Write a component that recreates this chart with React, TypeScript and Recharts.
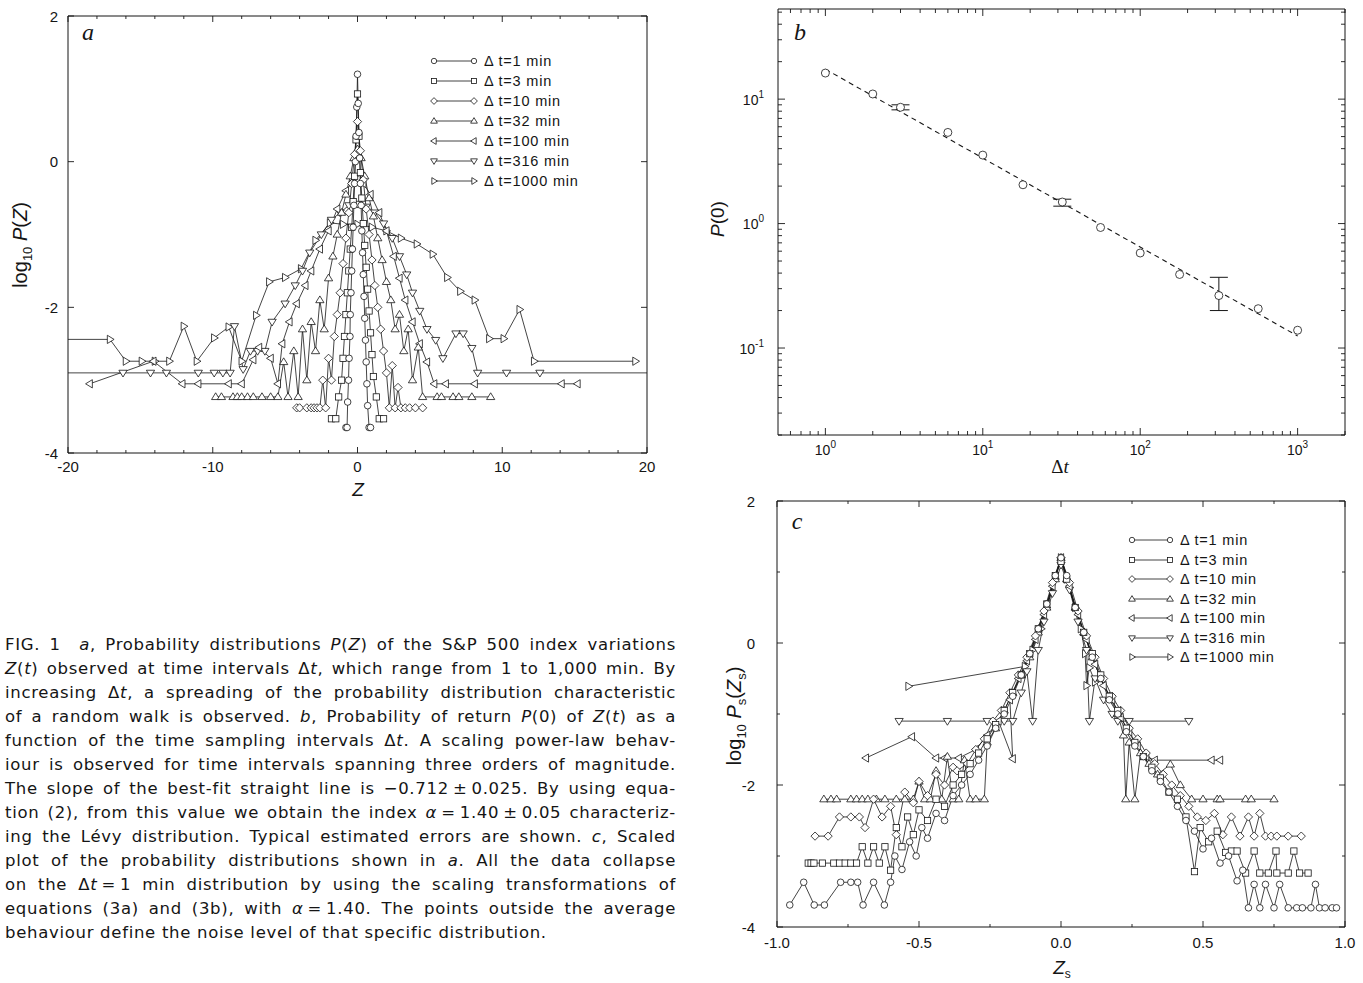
import React from 'react';
import { LineChart, Line, XAxis, YAxis, ErrorBar } from 'recharts';

type P = [number, number];

// ---------- legend ----------
const legendLabels = ['Δ t=1 min', 'Δ t=3 min', 'Δ t=10 min', 'Δ t=32 min', 'Δ t=100 min', 'Δ t=316 min', 'Δ t=1000 min'];
const markerShapes = ['circle', 'square', 'diamond', 'triUp', 'triLeft', 'triDown', 'triRight'];

// ---------- panel a : Z vs log10 P(Z) ----------
const aDt1: P[] = [[-0.8,-3.65],[-0.72,-3.65],[-0.68,-3.3],[-0.62,-3.0],[-0.58,-2.7],[-0.52,-2.4],[-0.5,-2.1],[-0.45,-1.8],[-0.4,-1.5],[-0.35,-1.2],[-0.3,-0.9],[-0.25,-0.6],[-0.2,-0.3],[-0.15,0.0],[-0.1,0.35],[-0.05,0.75],[0,1.2],[0.05,0.8],[0.1,0.4],[0.15,0.05],[0.2,-0.3],[0.25,-0.6],[0.3,-0.95],[0.35,-1.25],[0.4,-1.55],[0.45,-1.85],[0.5,-2.15],[0.55,-2.45],[0.6,-2.75],[0.65,-3.05],[0.7,-3.35],[0.8,-3.65],[0.9,-3.65]];
const aDt3: P[] = [[-1.8,-3.53],[-1.5,-3.53],[-1.3,-3.23],[-1.1,-3.0],[-1.0,-2.7],[-0.9,-2.4],[-0.8,-2.1],[-0.7,-1.8],[-0.6,-1.5],[-0.5,-1.2],[-0.4,-0.9],[-0.3,-0.55],[-0.2,-0.2],[-0.1,0.3],[0,0.93],[0.1,0.35],[0.2,-0.15],[0.3,-0.5],[0.4,-0.85],[0.5,-1.15],[0.6,-1.45],[0.7,-1.75],[0.8,-2.05],[0.9,-2.35],[1.0,-2.65],[1.1,-2.95],[1.3,-3.23],[1.5,-3.53],[1.8,-3.53]];
const aDt10: P[] = [[-4.2,-3.38],[-4.0,-3.38],[-3.5,-3.38],[-3.2,-3.38],[-3.0,-3.38],[-2.8,-3.38],[-2.6,-3.38],[-2.4,-3.0],[-2.2,-3.38],[-2.0,-2.7],[-1.8,-3.0],[-1.6,-2.4],[-1.4,-2.1],[-1.2,-1.8],[-1.0,-1.4],[-0.8,-1.05],[-0.6,-0.7],[-0.4,-0.3],[-0.2,0.1],[0,0.55],[0.2,0.15],[0.4,-0.25],[0.6,-0.65],[0.8,-1.0],[1.0,-1.35],[1.2,-1.7],[1.4,-2.0],[1.6,-2.3],[1.8,-2.6],[2.0,-2.9],[2.2,-3.38],[2.4,-2.8],[2.6,-3.38],[2.8,-3.1],[3.0,-3.38],[3.3,-3.38],[3.6,-3.38],[4.0,-3.38],[4.5,-3.38]];
const aDt32: P[] = [[-9.8,-3.23],[-9.4,-3.23],[-8.6,-3.23],[-8.3,-3.23],[-8.0,-3.23],[-7.6,-3.23],[-7.2,-3.23],[-6.6,-3.23],[-6.0,-3.23],[-5.5,-3.23],[-5.1,-2.75],[-4.8,-3.23],[-4.4,-2.6],[-4.1,-3.23],[-3.8,-2.3],[-3.5,-3.0],[-3.2,-2.2],[-2.9,-2.6],[-2.6,-1.9],[-2.3,-2.3],[-2.0,-1.6],[-1.7,-1.3],[-1.4,-1.0],[-1.1,-0.7],[-0.8,-0.45],[-0.5,-0.2],[-0.25,0.05],[0,0.17],[0.25,0.05],[0.5,-0.2],[0.8,-0.5],[1.1,-0.75],[1.4,-1.05],[1.7,-1.35],[2.0,-1.65],[2.3,-1.9],[2.6,-2.3],[2.9,-2.1],[3.2,-2.6],[3.5,-2.3],[3.8,-3.0],[4.2,-2.55],[4.5,-3.23],[5.5,-3.23],[5.8,-3.23],[6.6,-3.23],[7.0,-3.23],[7.9,-3.23],[9.2,-3.23]];
const aDt100: P[] = [[-18.5,-3.05],[-14.1,-2.74],[-12.1,-3.05],[-11.0,-3.05],[-8.9,-3.05],[-8.0,-3.05],[-7.2,-2.72],[-6.8,-2.55],[-6.0,-2.7],[-5.5,-3.05],[-5.2,-2.5],[-4.7,-2.2],[-4.2,-1.95],[-3.6,-1.7],[-3.2,-1.5],[-2.6,-1.2],[-2.0,-0.95],[-1.4,-0.65],[-0.8,-0.4],[-0.3,-0.27],[0,-0.24],[0.4,-0.3],[0.9,-0.45],[1.5,-0.7],[2.0,-0.95],[2.5,-1.3],[2.9,-1.6],[3.3,-1.9],[3.8,-2.2],[4.3,-2.5],[4.8,-2.75],[5.3,-3.05],[6.1,-3.05],[8.1,-3.05],[14.1,-3.05],[15.2,-3.05]];
const aDt316: P[] = [[-21,-2.9],[-16.2,-2.9],[-14.3,-2.9],[-13.2,-2.9],[-11.0,-2.9],[-9.9,-2.9],[-9.3,-2.9],[-8.8,-2.9],[-8.5,-2.26],[-7.9,-2.85],[-7.4,-2.6],[-6.9,-2.6],[-6.4,-2.6],[-5.9,-2.2],[-5.0,-1.95],[-4.3,-1.7],[-3.8,-1.5],[-3.3,-1.25],[-2.5,-1.0],[-1.8,-0.8],[-1.2,-0.7],[-0.6,-0.6],[0,-0.58],[0.6,-0.62],[1.2,-0.7],[1.8,-0.85],[2.4,-1.05],[2.9,-1.3],[3.4,-1.55],[3.8,-1.8],[4.3,-2.05],[4.8,-2.3],[5.4,-2.45],[5.9,-2.7],[6.8,-2.36],[7.3,-2.36],[7.9,-2.56],[8.3,-2.9],[10.3,-2.9],[12.6,-2.9],[21,-2.9]];
const aDt1000: P[] = [[-21,-2.44],[-17.1,-2.44],[-16.0,-2.74],[-14.9,-2.74],[-14.0,-2.74],[-13.0,-2.74],[-12.0,-2.26],[-11.1,-2.74],[-9.9,-2.42],[-8.9,-2.27],[-8.0,-2.74],[-7.0,-2.11],[-6.1,-1.65],[-5.0,-1.59],[-3.9,-1.47],[-2.9,-1.08],[-1.9,-0.84],[-1.0,-0.86],[0,-0.86],[1.0,-0.9],[2.0,-0.95],[3.0,-1.05],[4.1,-1.13],[5.2,-1.27],[6.2,-1.59],[7.1,-1.78],[8.1,-1.9],[9.1,-2.43],[10.1,-2.43],[11.2,-2.03],[12.2,-2.74],[19.2,-2.74]];
const aXTicks = [-20,-18,-16,-14,-12,-10,-8,-6,-4,-2,0,2,4,6,8,10,12,14,16,18,20];
const aYTicks = [-4,-2,0,2];

// ---------- panel b : P(0) vs Δt ----------
const bX = [1, 2, 3, 6, 10, 18, 32, 56, 100, 178, 316, 562, 1000];
const bY = [16.2, 11.0, 8.6, 5.4, 3.55, 2.05, 1.49, 0.93, 0.58, 0.39, 0.264, 0.207, 0.139];
const bErrX = [3, 32, 316];
const bErrY = [8.6, 1.49, 0.264];
const bErrLow = [0.4, 0.11, 0.064];
const bErrHigh = [0.4, 0.08, 0.106];
const bFitX = [1, 1000];
const bFitY = [17.4, 0.125];
const bXTicks = [0.6,0.7,0.8,0.9,1,2,3,4,5,6,7,8,9,10,20,30,40,50,60,70,80,90,100,200,300,400,500,600,700,800,900,1000,2000];
const bYTicks = [0.02,0.03,0.04,0.05,0.06,0.07,0.08,0.09,0.1,0.2,0.3,0.4,0.5,0.6,0.7,0.8,0.9,1,2,3,4,5,6,7,8,9,10,20,30,40,50];

// ---------- panel c : Zs vs log10 Ps(Zs) ----------
const cDt1: P[] = [[-0.955,-3.69],[-0.906,-3.37],[-0.869,-3.69],[-0.833,-3.69],[-0.776,-3.37],[-0.74,-3.37],[-0.716,-3.37],[-0.697,-3.69],[-0.66,-3.37],[-0.622,-3.69],[-0.6,-3.37],[-0.585,-3.0],[-0.56,-3.19],[-0.533,-2.8],[-0.51,-3.0],[-0.49,-2.6],[-0.47,-2.75],[-0.44,-2.4],[-0.41,-2.5],[-0.38,-2.15],[-0.35,-2.0],[-0.32,-1.85],[-0.29,-1.65],[-0.26,-1.45],[-0.23,-1.2],[-0.2,-1.0],[-0.17,-0.75],[-0.14,-0.45],[-0.11,-0.15],[-0.08,0.2],[-0.05,0.55],[-0.02,0.95],[0,1.2],[0.02,0.95],[0.05,0.5],[0.08,0.15],[0.11,-0.2],[0.14,-0.5],[0.17,-0.8],[0.2,-1.0],[0.23,-1.25],[0.26,-1.45],[0.29,-1.6],[0.32,-1.8],[0.35,-1.95],[0.38,-2.1],[0.41,-2.3],[0.44,-2.5],[0.47,-2.65],[0.5,-2.9],[0.53,-2.75],[0.56,-3.1],[0.59,-3.0],[0.62,-3.35],[0.64,-3.2],[0.66,-3.73],[0.68,-3.4],[0.7,-3.73],[0.72,-3.4],[0.75,-3.73],[0.77,-3.4],[0.8,-3.73],[0.83,-3.73],[0.85,-3.73],[0.88,-3.73],[0.896,-3.4],[0.91,-3.73],[0.93,-3.73],[0.955,-3.73],[0.97,-3.73]];
const cDt3: P[] = [[-0.89,-3.1],[-0.88,-3.1],[-0.87,-3.1],[-0.84,-3.1],[-0.8,-3.1],[-0.78,-3.1],[-0.76,-3.1],[-0.74,-3.1],[-0.72,-3.1],[-0.7,-2.87],[-0.68,-3.1],[-0.66,-2.87],[-0.64,-3.1],[-0.62,-2.87],[-0.6,-3.2],[-0.58,-2.6],[-0.56,-2.87],[-0.54,-2.45],[-0.52,-2.7],[-0.5,-2.35],[-0.47,-2.5],[-0.44,-2.2],[-0.41,-2.3],[-0.38,-2.0],[-0.35,-1.85],[-0.32,-1.7],[-0.29,-1.55],[-0.26,-1.35],[-0.23,-1.15],[-0.2,-0.95],[-0.17,-0.7],[-0.14,-0.45],[-0.11,-0.15],[-0.08,0.2],[-0.05,0.55],[-0.02,0.95],[0,1.15],[0.02,0.9],[0.05,0.5],[0.08,0.15],[0.11,-0.15],[0.14,-0.45],[0.17,-0.75],[0.2,-0.95],[0.23,-1.2],[0.26,-1.4],[0.29,-1.6],[0.32,-1.75],[0.35,-1.9],[0.38,-2.1],[0.41,-2.2],[0.44,-2.45],[0.47,-3.22],[0.49,-2.6],[0.52,-2.8],[0.55,-2.65],[0.58,-2.95],[0.6,-2.93],[0.62,-2.93],[0.65,-3.24],[0.68,-2.93],[0.7,-3.24],[0.73,-3.24],[0.757,-2.93],[0.76,-3.24],[0.8,-3.24],[0.82,-2.93],[0.84,-3.24],[0.87,-3.24]];
const cDt10: P[] = [[-0.866,-2.72],[-0.82,-2.72],[-0.78,-2.45],[-0.74,-2.45],[-0.71,-2.45],[-0.69,-2.6],[-0.66,-2.2],[-0.63,-2.45],[-0.6,-2.3],[-0.58,-2.7],[-0.55,-2.1],[-0.52,-2.25],[-0.5,-1.95],[-0.47,-2.15],[-0.44,-1.85],[-0.41,-2.0],[-0.38,-1.75],[-0.366,-1.8],[-0.33,-1.7],[-0.3,-1.5],[-0.27,-1.35],[-0.24,-1.1],[-0.21,-0.95],[-0.18,-0.7],[-0.15,-0.45],[-0.12,-0.2],[-0.09,0.1],[-0.06,0.45],[-0.03,0.85],[0,1.2],[0.03,0.85],[0.06,0.45],[0.09,0.1],[0.12,-0.2],[0.15,-0.5],[0.18,-0.75],[0.21,-0.95],[0.24,-1.2],[0.27,-1.35],[0.3,-1.55],[0.33,-1.7],[0.36,-1.85],[0.39,-2.0],[0.42,-2.15],[0.45,-2.3],[0.48,-2.45],[0.51,-2.5],[0.54,-2.4],[0.57,-2.7],[0.6,-2.45],[0.63,-2.72],[0.66,-2.45],[0.68,-2.72],[0.7,-2.4],[0.72,-2.72],[0.74,-2.72],[0.76,-2.72],[0.8,-2.72],[0.846,-2.72]];
const cDt32: P[] = [[-0.835,-2.2],[-0.81,-2.2],[-0.79,-2.2],[-0.74,-2.2],[-0.72,-2.2],[-0.7,-2.2],[-0.68,-2.2],[-0.65,-2.2],[-0.62,-2.2],[-0.58,-2.2],[-0.55,-2.2],[-0.52,-2.2],[-0.5,-1.95],[-0.48,-2.2],[-0.46,-2.2],[-0.44,-1.8],[-0.42,-2.2],[-0.4,-1.6],[-0.38,-2.2],[-0.36,-2.2],[-0.34,-1.65],[-0.32,-2.2],[-0.3,-2.2],[-0.27,-2.2],[-0.26,-1.4],[-0.23,-1.2],[-0.2,-0.95],[-0.17,-0.7],[-0.14,-0.45],[-0.11,-0.2],[-0.08,0.15],[-0.05,0.5],[-0.02,0.9],[0,1.2],[0.02,0.9],[0.05,0.5],[0.08,0.15],[0.11,-0.2],[0.14,-0.5],[0.17,-0.75],[0.2,-1.0],[0.22,-1.3],[0.228,-2.2],[0.24,-1.4],[0.26,-2.2],[0.28,-1.55],[0.31,-1.7],[0.34,-1.85],[0.385,-1.71],[0.42,-2.0],[0.46,-2.2],[0.5,-2.2],[0.55,-2.2],[0.56,-2.2],[0.65,-2.2],[0.67,-2.2],[0.75,-2.2]];
const cDt100: P[] = [[-0.687,-1.62],[-0.525,-1.32],[-0.44,-1.62],[-0.41,-1.62],[-0.36,-1.62],[-0.3,-1.5],[-0.26,-1.3],[-0.22,-1.1],[-0.17,-1.63],[-0.18,-0.8],[-0.15,-0.5],[-0.12,-0.25],[-0.09,0.05],[-0.06,0.4],[-0.03,0.8],[0,1.2],[0.03,0.8],[0.06,0.4],[0.09,0.05],[0.12,-0.3],[0.15,-0.6],[0.18,-0.8],[0.21,-1.05],[0.24,-1.25],[0.27,-1.45],[0.3,-1.6],[0.33,-1.65],[0.53,-1.65],[0.56,-1.65]];
const cDt316: P[] = [[-0.57,-1.1],[-0.4,-1.1],[-0.26,-1.1],[-0.2,-1.1],[-0.17,-1.1],[-0.14,-0.7],[-0.12,-0.4],[-0.1,-1.1],[-0.08,-0.1],[-0.06,0.3],[-0.03,0.7],[0,1.1],[0.03,0.75],[0.06,0.3],[0.09,-0.1],[0.1,-1.1],[0.12,-0.5],[0.15,-0.8],[0.18,-1.0],[0.2,-1.1],[0.24,-1.1],[0.45,-1.1]];
const cDt1000: P[] = [[-0.537,-0.61],[-0.127,-0.33],[-0.1,-0.1],[-0.07,0.2],[-0.05,0.5],[-0.02,0.9],[0,1.2],[0.02,0.9],[0.05,0.5],[0.07,0.2],[0.085,-0.15],[0.09,-0.6],[0.1,-0.35],[0.12,-0.55]];
const cXTicks = [-1, -0.75, -0.5, -0.25, 0, 0.25, 0.5, 0.75, 1];
const cYTicks = [-4, -3, -2, -1, 0, 1, 2];

// ---------- helpers ----------
const toObj = (arr: P[]) => arr.map(([x, y]) => ({ x, y }));
const INK = '#151515';
const SANS = '"Liberation Sans", Arial, Helvetica, sans-serif';
const SERIF = '"Liberation Serif", "Times New Roman", serif';

function Marker({ shape, cx, cy, r = 3.2, sw = 0.8 }: any) {
  if (cx == null || cy == null || isNaN(cx) || isNaN(cy)) return null;
  const common = { fill: '#fff', stroke: INK, strokeWidth: sw };
  const k = r * 1.25;
  switch (shape) {
    case 'circle':
      return <circle cx={cx} cy={cy} r={r} {...common} />;
    case 'square':
      return <rect x={cx - r * 0.95} y={cy - r * 0.95} width={r * 1.9} height={r * 1.9} {...common} />;
    case 'diamond':
      return <polygon points={`${cx},${cy - k} ${cx + k},${cy} ${cx},${cy + k} ${cx - k},${cy}`} {...common} />;
    case 'triUp':
      return <polygon points={`${cx},${cy - k} ${cx + k},${cy + r * 0.8} ${cx - k},${cy + r * 0.8}`} {...common} />;
    case 'triDown':
      return <polygon points={`${cx},${cy + k} ${cx + k},${cy - r * 0.8} ${cx - k},${cy - r * 0.8}`} {...common} />;
    case 'triLeft':
      return <polygon points={`${cx - k},${cy} ${cx + r * 0.8},${cy - k} ${cx + r * 0.8},${cy + k}`} {...common} />;
    default:
      return <polygon points={`${cx + k},${cy} ${cx - r * 0.8},${cy - k} ${cx - r * 0.8},${cy + k}`} {...common} />;
  }
}

const dotFor = (shape: string, r = 3.2) => (p: any) => <Marker key={`d${p.index}`} shape={shape} cx={p.cx} cy={p.cy} r={r} />;

type Side = 'bottom' | 'top' | 'left' | 'right';
function makeTick(side: Side, isMajor: (v: number) => boolean, majorLen: number, minorLen: number, label?: (v: number) => React.ReactNode, off = 0, fontSize = 15) {
  return (props: any) => {
    const { x, y, payload } = props;
    const v = payload.value;
    const maj = isMajor(v);
    const len = maj ? majorLen : minorLen;
    let x2 = x, y2 = y;
    if (side === 'bottom') y2 = y - len;
    if (side === 'top') y2 = y + len;
    if (side === 'left') x2 = x + len;
    if (side === 'right') x2 = x - len;
    let text: React.ReactNode = null;
    if (label && maj) {
      if (side === 'bottom')
        text = <text x={x} y={y + off} textAnchor="middle" fontFamily={SANS} fontSize={fontSize} fill={INK}>{label(v)}</text>;
      if (side === 'left')
        text = <text x={x - off} y={y + 5.5} textAnchor="end" fontFamily={SANS} fontSize={fontSize} fill={INK}>{label(v)}</text>;
    }
    return (
      <g>
        <line x1={x} y1={y} x2={x2} y2={y2} stroke={INK} strokeWidth={0.9} />
        {text}
      </g>
    );
  };
}

const axisLine = { stroke: INK, strokeWidth: 1 };
const axBase = { tickSize: 0, tickMargin: 0, tickLine: false, interval: 0 as const, axisLine, allowDataOverflow: true };

const isMult = (step: number) => (v: number) => Math.abs(v / step - Math.round(v / step)) < 1e-6;
const isPow10 = (v: number) => Math.abs(Math.log10(v) - Math.round(Math.log10(v))) < 1e-6;
const powLabel = (v: number) => (
  <>
    10<tspan dy={-7} fontSize={10}>{Math.round(Math.log10(v))}</tspan>
  </>
);

// ---------- legend ----------
function LegendBox({ left, top, rowH, lineW }: { left: number; top: number; rowH: number; lineW: number }) {
  return (
    <div style={{ position: 'absolute', left, top }}>
      {legendLabels.map((lab, i) => (
        <div key={lab} style={{ position: 'absolute', left: 0, top: i * rowH - 10, height: 20, display: 'flex', alignItems: 'center', whiteSpace: 'nowrap' }}>
          <svg width={lineW + 8} height={20} style={{ display: 'block' }}>
            <line x1={4} x2={lineW + 4} y1={10} y2={10} stroke={INK} strokeWidth={0.8} />
            <Marker shape={markerShapes[i]} cx={4} cy={10} r={2.7} />
            <Marker shape={markerShapes[i]} cx={lineW + 4} cy={10} r={2.7} />
          </svg>
          <span style={{ marginLeft: 6, fontFamily: SANS, fontSize: 14.5, letterSpacing: 0.8, color: INK, lineHeight: '20px' }}>{lab}</span>
        </div>
      ))}
    </div>
  );
}

function RotLabel({ cx, cy, children, size = 18 }: any) {
  return (
    <div style={{ position: 'absolute', left: cx, top: cy, transform: 'translate(-50%, -50%) rotate(-90deg)', whiteSpace: 'nowrap', fontFamily: SANS, fontSize: size, color: INK }}>
      {children}
    </div>
  );
}

function TextAt({ cx, cy, children, style }: any) {
  return (
    <div style={{ position: 'absolute', left: cx, top: cy, transform: 'translate(-50%, -50%)', whiteSpace: 'nowrap', color: INK, ...style }}>
      {children}
    </div>
  );
}

// Axis sizes: bottom axis 30px, top axis 1px, left axis 50px, right axis 1px.
function axisMargin(plotL: number, plotT: number, plotR: number, plotB: number, w: number, h: number) {
  return { top: plotT - 1, left: plotL - 50, right: w - plotR - 1, bottom: h - plotB - 30 };
}

// ---------- panels ----------
const aSeries = [aDt1000, aDt316, aDt100, aDt32, aDt10, aDt3, aDt1];
const aShapes = ['triRight', 'triDown', 'triLeft', 'triUp', 'diamond', 'square', 'circle'];
const cSeries = [cDt1000, cDt316, cDt100, cDt32, cDt10, cDt3, cDt1];

function PanelA() {
  return (
    <div style={{ position: 'absolute', left: 0, top: 0 }}>
      <LineChart width={660} height={500} margin={axisMargin(68, 16, 647, 453, 660, 500)}>
        <XAxis xAxisId="b" type="number" dataKey="x" domain={[-20, 20]} ticks={aXTicks} height={30} {...axBase}
          tick={makeTick('bottom', isMult(10), 6, 3, (v) => String(v), 18.5)} />
        <XAxis xAxisId="t" orientation="top" type="number" dataKey="x" domain={[-20, 20]} ticks={aXTicks} height={1} {...axBase}
          tick={makeTick('top', isMult(10), 6, 3)} />
        <YAxis yAxisId="l" type="number" dataKey="y" domain={[-4, 2]} ticks={aYTicks} width={50} {...axBase}
          tick={makeTick('left', () => true, 6, 3, (v) => String(v), 10)} />
        <YAxis yAxisId="r" orientation="right" type="number" dataKey="y" domain={[-4, 2]} ticks={aYTicks} width={1} {...axBase}
          tick={makeTick('right', () => true, 6, 3)} />
        {aSeries.map((s, i) => (
          <Line key={i} xAxisId="b" yAxisId="l" data={toObj(s)} dataKey="y" type="linear" stroke={INK} strokeWidth={0.8}
            dot={dotFor(aShapes[i], 3.3)} activeDot={false} isAnimationActive={false} />
        ))}
      </LineChart>
    </div>
  );
}

function PanelB() {
  const pts = bX.map((x, i) => ({ x, y: bY[i] }));
  const fit = bFitX.map((x, i) => ({ x, y: bFitY[i] }));
  const errs = bErrX.map((x, i) => ({ x, y: bErrY[i], err: [bErrLow[i], bErrHigh[i]] }));
  return (
    <div style={{ position: 'absolute', left: 700, top: 0 }}>
      <LineChart width={663} height={490} margin={axisMargin(78, 9, 645, 435, 663, 490)}>
        <XAxis xAxisId="b" type="number" scale="log" dataKey="x" domain={[0.5, 2000]} ticks={bXTicks} height={30} {...axBase}
          tick={makeTick('bottom', isPow10, 7, 4, powLabel, 20, 14)} />
        <XAxis xAxisId="t" orientation="top" type="number" scale="log" dataKey="x" domain={[0.5, 2000]} ticks={bXTicks} height={1} {...axBase}
          tick={makeTick('top', isPow10, 7, 4)} />
        <YAxis yAxisId="l" type="number" scale="log" dataKey="y" domain={[0.02, 53]} ticks={bYTicks} width={50} {...axBase}
          tick={makeTick('left', isPow10, 7, 4, powLabel, 14, 14)} />
        <YAxis yAxisId="r" orientation="right" type="number" scale="log" dataKey="y" domain={[0.02, 53]} ticks={bYTicks} width={1} {...axBase}
          tick={makeTick('right', isPow10, 7, 4)} />
        <Line xAxisId="b" yAxisId="l" data={fit} dataKey="y" type="linear" stroke={INK} strokeWidth={1.1} strokeDasharray="5 4"
          dot={false} activeDot={false} isAnimationActive={false} />
        <Line xAxisId="b" yAxisId="l" data={errs} dataKey="y" stroke="none" dot={false} activeDot={false} isAnimationActive={false}>
          <ErrorBar dataKey="err" direction="y" width={9} stroke={INK} strokeWidth={1} />
        </Line>
        <Line xAxisId="b" yAxisId="l" data={pts} dataKey="y" stroke="none" dot={dotFor('circle', 4)} activeDot={false} isAnimationActive={false} />
      </LineChart>
    </div>
  );
}

function PanelC() {
  return (
    <div style={{ position: 'absolute', left: 700, top: 480 }}>
      <LineChart width={663} height={503} margin={axisMargin(77, 21, 645, 447, 663, 503)}>
        <XAxis xAxisId="b" type="number" dataKey="x" domain={[-1, 1]} ticks={cXTicks} height={30} {...axBase}
          tick={makeTick('bottom', isMult(0.5), 6, 3, (v) => v.toFixed(1), 21)} />
        <XAxis xAxisId="t" orientation="top" type="number" dataKey="x" domain={[-1, 1]} ticks={cXTicks} height={1} {...axBase}
          tick={makeTick('top', isMult(0.5), 6, 3)} />
        <YAxis yAxisId="l" type="number" dataKey="y" domain={[-4, 2]} ticks={cYTicks} width={50} {...axBase}
          tick={makeTick('left', isMult(2), 6, 3, (v) => String(v), 22)} />
        <YAxis yAxisId="r" orientation="right" type="number" dataKey="y" domain={[-4, 2]} ticks={cYTicks} width={1} {...axBase}
          tick={makeTick('right', isMult(2), 6, 3)} />
        {cSeries.map((s, i) => (
          <Line key={i} xAxisId="b" yAxisId="l" data={toObj(s)} dataKey="y" type="linear" stroke={INK} strokeWidth={0.8}
            dot={dotFor(aShapes[i], 3.3)} activeDot={false} isAnimationActive={false} />
        ))}
      </LineChart>
    </div>
  );
}

// ---------- caption ----------
const I = ({ children }: any) => <i>{children}</i>;
const captionLines: React.ReactNode[] = [
  <>FIG. 1&nbsp; <I>a</I>, Probability distributions <I>P</I>(<I>Z</I>) of the S&amp;P 500 index variations</>,
  <><I>Z</I>(<I>t</I>) observed at time intervals Δ<I>t</I>, which range from 1 to 1,000 min. By</>,
  <>increasing Δ<I>t</I>, a spreading of the probability distribution characteristic</>,
  <>of a random walk is observed. <I>b</I>, Probability of return <I>P</I>(0) of <I>Z</I>(<I>t</I>) as a</>,
  <>function of the time sampling intervals Δ<I>t</I>. A scaling power-law behav-</>,
  <>iour is observed for time intervals spanning three orders of magnitude.</>,
  <>The slope of the best-fit straight line is −0.712{'\u2009'}±{'\u2009'}0.025. By using equa-</>,
  <>tion (2), from this value we obtain the index <I>α</I>{'\u2009'}={'\u2009'}1.40{'\u2009'}±{'\u2009'}0.05 characteriz-</>,
  <>ing the Lévy distribution. Typical estimated errors are shown. <I>c</I>, Scaled</>,
  <>plot of the probability distributions shown in <I>a</I>. All the data collapse</>,
  <>on the Δ<I>t</I>{'\u2009'}={'\u2009'}1 min distribution by using the scaling transformations of</>,
  <>equations (3a) and (3b), with <I>α</I>{'\u2009'}={'\u2009'}1.40. The points outside the average</>,
  <>behaviour define the noise level of that specific distribution.</>,
];

function Caption() {
  return (
    <div style={{ position: 'absolute', left: 5, top: 633, width: 671, fontFamily: '"DejaVu Sans", "Noto Sans", sans-serif', fontSize: 16.5, letterSpacing: 0.7, color: INK }}>
      {captionLines.map((ln, i) => (
        <div key={i} style={{ height: 24, lineHeight: '24px', textAlign: 'justify', textAlignLast: i === captionLines.length - 1 ? 'left' : 'justify', whiteSpace: 'normal' }}>
          {ln}
        </div>
      ))}
    </div>
  );
}

export default function App() {
  return (
    <div style={{ position: 'absolute', left: 0, top: 0, width: 1363, height: 983, background: '#fff', overflow: 'hidden' }}>
      <PanelA />
      <PanelB />
      <PanelC />

      {/* panel letters */}
      <TextAt cx={88} cy={32} style={{ fontFamily: SERIF, fontStyle: 'italic', fontSize: 24 }}>a</TextAt>
      <TextAt cx={800} cy={32} style={{ fontFamily: SERIF, fontStyle: 'italic', fontSize: 24 }}>b</TextAt>
      <TextAt cx={797} cy={521} style={{ fontFamily: SERIF, fontStyle: 'italic', fontSize: 24 }}>c</TextAt>

      {/* axis titles */}
      <RotLabel cx={22} cy={245} size={20}>log<sub style={{ fontSize: 13 }}>10</sub> <i>P</i>(<i>Z</i>)</RotLabel>
      <TextAt cx={358} cy={490} style={{ fontFamily: SANS, fontStyle: 'italic', fontSize: 19 }}>Z</TextAt>

      <RotLabel cx={718} cy={219} size={19}><i>P</i>(0)</RotLabel>
      <TextAt cx={1060} cy={467} style={{ fontFamily: SERIF, fontSize: 19 }}>Δ<i>t</i></TextAt>

      <RotLabel cx={736} cy={716} size={20}>log<sub style={{ fontSize: 13 }}>10</sub> <i>P</i><sub style={{ fontSize: 13 }}>s</sub>(<i>Z</i><sub style={{ fontSize: 13 }}>s</sub>)</RotLabel>
      <TextAt cx={1062} cy={969} style={{ fontFamily: SANS, fontSize: 19 }}><i>Z</i><sub style={{ fontSize: 12 }}>s</sub></TextAt>

      <LegendBox left={430} top={61} rowH={20} lineW={40} />
      <LegendBox left={1128} top={540} rowH={19.5} lineW={38} />

      <Caption />
    </div>
  );
}
